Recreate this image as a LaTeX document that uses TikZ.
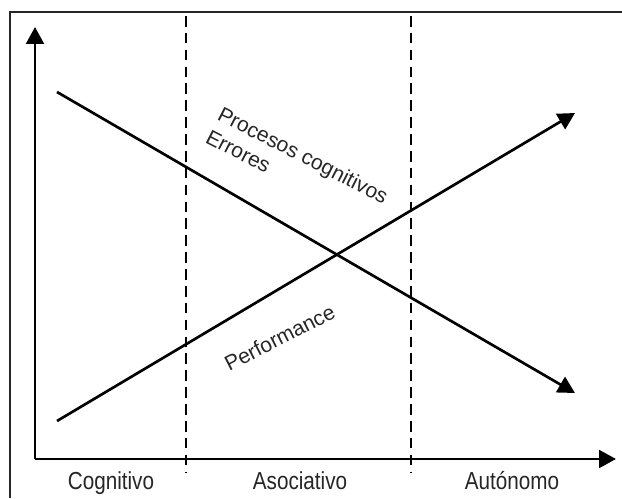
\documentclass[tikz,border=0pt]{standalone}
\usepackage{fontspec}
\setmainfont{Liberation Sans}
\usetikzlibrary{arrows.meta}

\begin{document}
\begin{tikzpicture}[x=0.025cm,y=-0.025cm,
    >={Triangle[length=12pt,width=12.5pt]},
    axis/.style={line width=2.1pt,->},
    trend/.style={line width=1.9pt,->},
    stage/.style={line width=1.4pt,dash pattern=on 7.5pt off 4.5pt},
    lbl/.style={font=\fontsize{15}{18}\selectfont,inner sep=0pt,text=black!85},
    phase/.style={lbl,font=\fontsize{17.5}{20}\selectfont,xscale=0.84,anchor=base}]
  \useasboundingbox (0,0) rectangle (622,498);
  % frame (only top and left edges are visible)
  \draw[line width=1.5pt,black!85] (10,498) -- (10,12) -- (622,12);

  % axes
  \coordinate (O) at (35,459);
  \coordinate (ytop) at (35,27);
  \coordinate (xend) at (616,459);
  \draw[axis] (O) -- (ytop);
  \draw[axis] (O) -- (xend);

  % stage limits
  \coordinate (s1a) at (186,16);
  \coordinate (s1b) at (186,472);
  \coordinate (s2a) at (411,16);
  \coordinate (s2b) at (411,472);
  \draw[stage] (s1a) -- (s1b);
  \draw[stage] (s2a) -- (s2b);

  % trends
  \coordinate (down0) at (57,92);
  \coordinate (down1) at (575,393);
  \coordinate (up0) at (57,421);
  \coordinate (up1) at (575,113);
  \draw[trend] (down0) -- (down1);
  \draw[trend] (up0) -- (up1);

  \node[lbl,anchor=base west,rotate=-27] (proc) at (216,119) {Procesos cognitivos};
  \node[lbl,anchor=base west,rotate=-27] (err) at (204,142) {Errores};
  \node[lbl,anchor=base west,rotate=27] (perf) at (229,372) {Performance};

  % stage names
  \node[phase] (cog) at (111,489) {Cognitivo};
  \node[phase] (aso) at (300,489) {Asociativo};
  \node[phase] (aut) at (512,489) {Autónomo};
\end{tikzpicture}
\end{document}
